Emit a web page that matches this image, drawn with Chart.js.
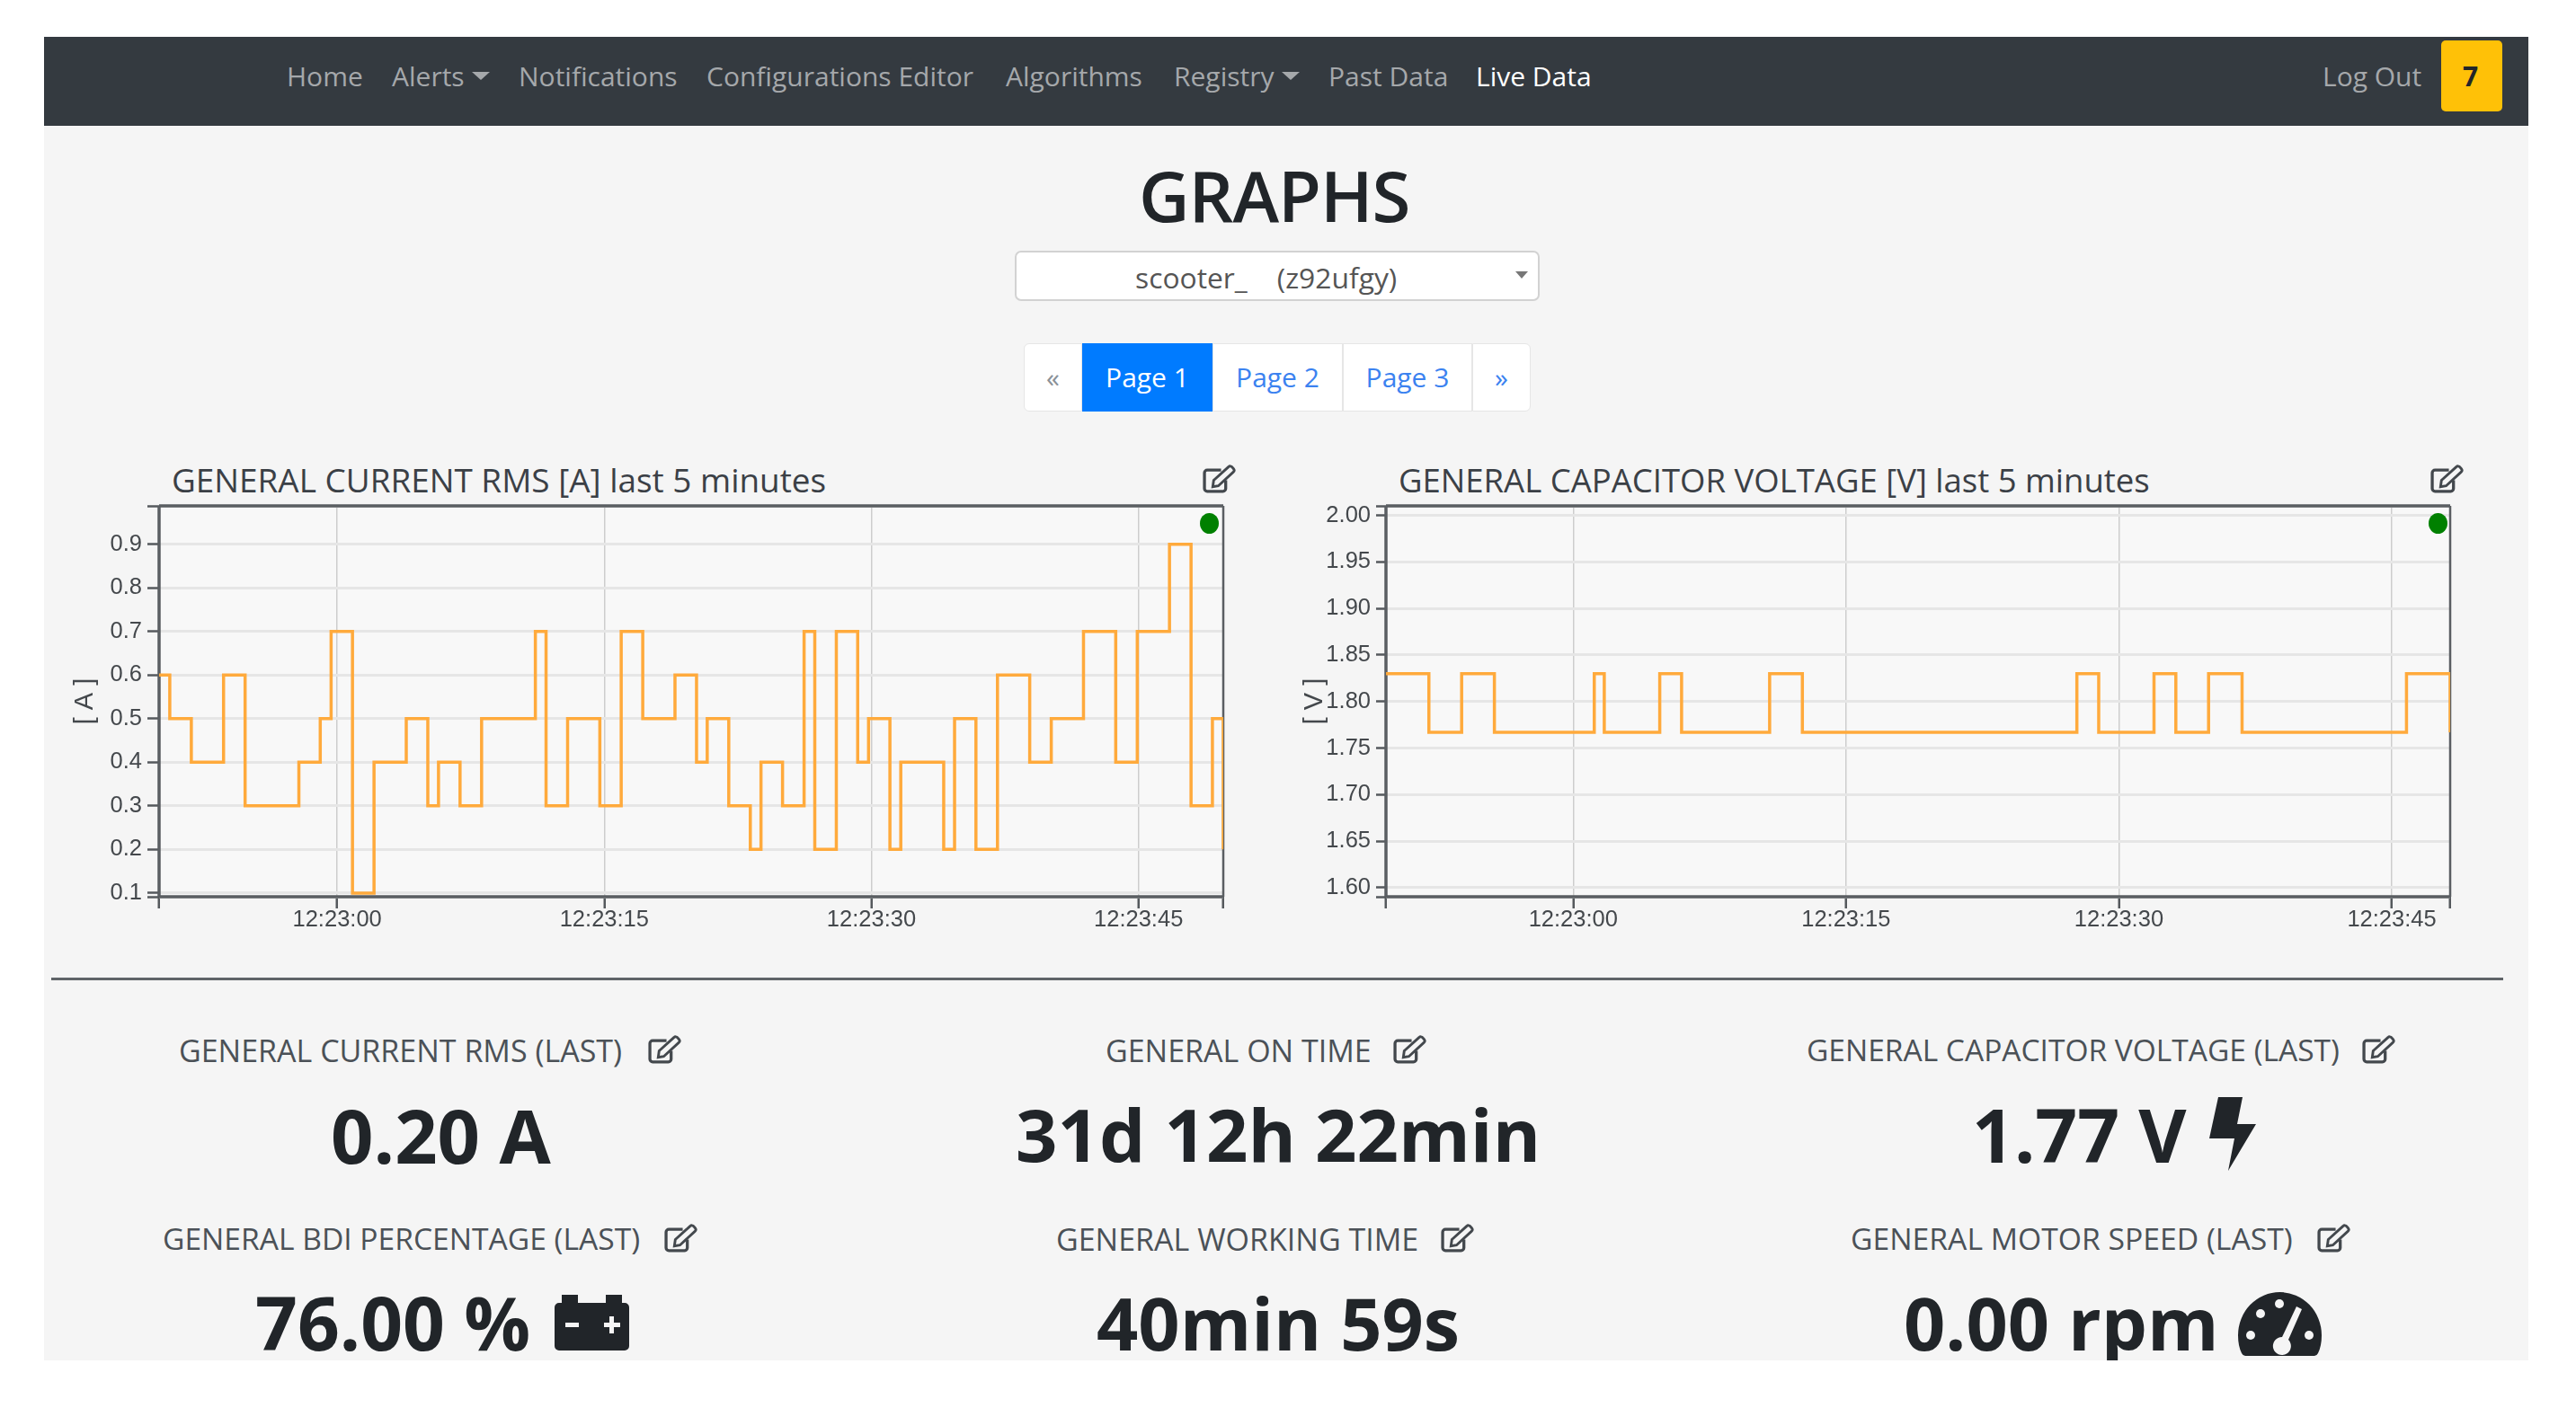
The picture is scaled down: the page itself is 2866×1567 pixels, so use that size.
<!DOCTYPE html>
<html>
<head>
<meta charset="utf-8">
<title>Graphs</title>
<script src="https://cdn.jsdelivr.net/npm/chart.js@4"></script>
<style>
  html, body { margin: 0; padding: 0; background: #fff; width: 2866px; height: 1567px; overflow: hidden; }
  #panel { position: absolute; left: 49px; top: 41px; width: 2764px; height: 1473px; background: #f5f5f5; overflow: hidden; }
  #page { position: absolute; left: -49px; top: -41px; width: 2866px; height: 1567px; font-family: "Open Sans", sans-serif; color: #212529; }
  #nav { position: absolute; left: 49px; top: 41px; width: 2764px; height: 99px; background: #343a40; }
  .t { position: absolute; white-space: nowrap; transform: translateY(-50%); line-height: 1; }
  .n { font-size: 30px; color: #a5a8ab; top: 85px; }
  .kl { font-size: 34px; color: #4b5157; }
  .kv { font-size: 82px; font-weight: 700; color: #212529; }
  .ct { font-size: 36.6px; color: #3b4046; top: 534px; }
  .caret { position: absolute; width: 0; height: 0; border-left: 10px solid transparent; border-right: 10px solid transparent; border-top: 9px solid #a5a8ab; }
  .pg { position: absolute; top: 382px; height: 76px; background: #fff; box-sizing: border-box; border: 1px solid #e6e6e6; font-size: 30px; line-height: 74px; text-align: center; color: #3b82f0; }
  canvas { position: absolute; }
  .dot { position: absolute; width: 21px; height: 23px; border-radius: 50%; background: #008000; }
  svg { position: absolute; }
</style>
</head>
<body>
<svg width="0" height="0" style="position:absolute">
  <symbol id="edit" viewBox="0 0 36 32">
    <path d="M25 17v9a3 3 0 0 1-3 3H5a3 3 0 0 1-3-3V9a3 3 0 0 1 3-3h15" fill="none" stroke="#43484d" stroke-width="3.2"/>
    <path d="M12 17 28 2.5a2.6 2.6 0 0 1 4 .3l1.5 1.7a2.6 2.6 0 0 1-.3 3.6L17 23l-6 1z" fill="none" stroke="#43484d" stroke-width="2.8"/>
  </symbol>
</svg>
<div id="panel"><div id="page">
  <div id="nav"></div>
  <span class="t n" style="left:319px">Home</span>
  <span class="t n" style="left:436px">Alerts</span><i class="caret" style="left:525px;top:80px"></i>
  <span class="t n" style="left:577px">Notifications</span>
  <span class="t n" style="left:786px">Configurations Editor</span>
  <span class="t n" style="left:1119px">Algorithms</span>
  <span class="t n" style="left:1306px">Registry</span><i class="caret" style="left:1426px;top:80px"></i>
  <span class="t n" style="left:1478px">Past Data</span>
  <span class="t n" style="left:1642px;color:#fff">Live Data</span>
  <span class="t n" style="left:2584px">Log Out</span>
  <div style="position:absolute;left:2716px;top:45px;width:68px;height:79px;background:#ffc107;border-radius:5px"></div>
  <span class="t" style="left:2740px;top:85px;font-size:30px;font-weight:700">7</span>

  <span class="t" style="left:1267px;top:217px;font-size:78px;font-weight:600;letter-spacing:-1px;color:#212529">GRAPHS</span>

  <div style="position:absolute;left:1129px;top:279px;width:584px;height:56px;background:#fff;border:2px solid #d2d2d2;border-radius:7px;box-sizing:border-box"></div>
  <span class="t" style="left:1263px;top:309px;font-size:31.8px;color:#555;white-space:pre">scooter_    (z92ufgy)</span>
  <i class="caret" style="left:1686px;top:302px;border-left-width:7px;border-right-width:7px;border-top:8px solid #777"></i>

  <div class="pg" style="left:1139px;width:65px;color:#8a9197;border-radius:6px 0 0 6px">«</div>
  <div class="pg" style="left:1204px;width:145px;background:#007bff;border-color:#007bff;color:#fff">Page 1</div>
  <div class="pg" style="left:1349px;width:145px">Page 2</div>
  <div class="pg" style="left:1494px;width:144px">Page 3</div>
  <div class="pg" style="left:1638px;width:65px;border-radius:0 6px 6px 0">»</div>

  <span class="t ct" style="left:191px;font-size:36.9px">GENERAL CURRENT RMS [A] last 5 minutes</span>
  <svg style="left:1338px;top:517px" width="37" height="33"><use href="#edit"/></svg>
  <span class="t ct" style="left:1556px;font-size:36.5px">GENERAL CAPACITOR VOLTAGE [V] last 5 minutes</span>
  <svg style="left:2704px;top:517px" width="37" height="33"><use href="#edit"/></svg>

  <canvas id="currentChart" width="1310" height="510" style="left:70px;top:540px"></canvas>
  <canvas id="voltageChart" width="1310" height="510" style="left:1440px;top:540px"></canvas>
  <div class="dot" style="left:1335px;top:571px"></div>
  <div class="dot" style="left:2702px;top:571px"></div>

  <div style="position:absolute;left:57px;top:1088px;width:2728px;height:3px;background:#5f6468"></div>

  <span class="t kl" style="left:199px;top:1169px">GENERAL CURRENT RMS (LAST)</span>
  <svg style="left:721px;top:1152px" width="37" height="33"><use href="#edit"/></svg>
  <span class="t kl" style="left:1230px;top:1169px">GENERAL ON TIME</span>
  <svg style="left:1550px;top:1152px" width="37" height="33"><use href="#edit"/></svg>
  <span class="t kl" style="left:2010px;top:1169px;font-size:33.5px">GENERAL CAPACITOR VOLTAGE (LAST)</span>
  <svg style="left:2628px;top:1152px" width="37" height="33"><use href="#edit"/></svg>

  <span class="t kv" style="left:368px;top:1262px;font-size:83px">0.20 A</span>
  <span class="t kv" style="left:1130px;top:1262px;font-size:81.3px">31d 12h 22min</span>
  <span class="t kv" style="left:2194px;top:1262px">1.77 V</span>
  <svg style="left:2458px;top:1221px" width="52" height="82" viewBox="0 0 52 82"><path d="M10 0H37L31 30H52L21 82 28 46H0Z" fill="#212529"/></svg>

  <span class="t kl" style="left:181px;top:1379px;font-size:33.6px">GENERAL BDI PERCENTAGE (LAST)</span>
  <svg style="left:739px;top:1362px" width="37" height="33"><use href="#edit"/></svg>
  <span class="t kl" style="left:1175px;top:1379px">GENERAL WORKING TIME</span>
  <svg style="left:1603px;top:1362px" width="37" height="33"><use href="#edit"/></svg>
  <span class="t kl" style="left:2059px;top:1379px;font-size:33.7px">GENERAL MOTOR SPEED (LAST)</span>
  <svg style="left:2578px;top:1362px" width="37" height="33"><use href="#edit"/></svg>

  <span class="t kv" style="left:284px;top:1471px">76.00 %</span>
  <svg style="left:617px;top:1441px" width="83" height="62" viewBox="0 0 83 62">
    <path d="M8 0H26V9H57V0H75V9H78a5 5 0 0 1 5 5V57a5 5 0 0 1-5 5H5a5 5 0 0 1-5-5V14a5 5 0 0 1 5-5H8Z" fill="#212529"/>
    <path d="M12 31H27V36H12ZM55 31H61V24H66V31H73V36H66V43H61V36H55Z" fill="#f5f5f5"/>
  </svg>
  <span class="t kv" style="left:1220px;top:1471px;font-size:81px">40min 59s</span>
  <span class="t kv" style="left:2118px;top:1471px;font-size:81px">0.00 rpm</span>
  <svg style="left:2490px;top:1436px" width="93" height="73" viewBox="0 0 93 73">
    <path d="M0 50a46.5 48 0 1 1 93 0q0 12-4 20a5 5 0 0 1-4 3H8a5 5 0 0 1-4-3q-4-8-4-20Z" fill="#212529"/>
    <g fill="#f5f5f5">
      <circle cx="14" cy="50" r="5"/><circle cx="25" cy="26" r="5"/><circle cx="46" cy="15" r="5"/><circle cx="79" cy="50" r="5"/>
      <path d="M65 18l6 3-15 34a10 10 0 1 1-7-3z"/>
    </g>
  </svg>
</div></div>

<script>
// chart values (x = seconds after 12:23:00)
const currentTimes = [-10, -9.4, -8.19, -6.38, -5.17, -2.15, -0.95, -0.34, 0.86, 2.07, 3.88, 5.09, 5.69, 6.9, 8.11, 11.13, 11.73, 12.94, 14.75, 15.95, 17.16, 18.97, 20.18, 20.78, 21.99, 23.2, 23.8, 25.01, 26.22, 26.82, 28.03, 29.23, 29.84, 31.04, 31.65, 34.06, 34.67, 35.87, 37.08, 38.89, 40.1, 41.91, 43.72, 44.93, 46.74, 47.95, 49.15, 49.76];
const currentValues = [0.6, 0.5, 0.4, 0.6, 0.3, 0.4, 0.5, 0.7, 0.1, 0.4, 0.5, 0.3, 0.4, 0.3, 0.5, 0.7, 0.3, 0.5, 0.3, 0.7, 0.5, 0.6, 0.4, 0.5, 0.3, 0.2, 0.4, 0.3, 0.7, 0.2, 0.7, 0.4, 0.5, 0.2, 0.4, 0.2, 0.5, 0.2, 0.6, 0.4, 0.5, 0.7, 0.4, 0.7, 0.9, 0.3, 0.5, 0.2];
const voltageTimes = [-10.29, -7.93, -6.13, -4.33, 1.16, 1.71, 4.76, 5.96, 10.8, 12.6, 27.69, 28.89, 31.93, 33.13, 34.93, 36.77, 45.81, 48.21];
const voltageValues = [1.83, 1.767, 1.83, 1.767, 1.83, 1.767, 1.83, 1.767, 1.83, 1.767, 1.83, 1.767, 1.83, 1.767, 1.83, 1.767, 1.83, 1.767];

const currentYTicks = [0.0915, 0.1, 0.2, 0.3, 0.4, 0.5, 0.6, 0.7, 0.8, 0.9, 0.988];
const currentXTicks = [-10, 0, 15, 30, 45, 49.76];
const voltageYTicks = [1.5902, 1.6, 1.65, 1.7, 1.75, 1.8, 1.85, 1.9, 1.95, 2, 2.0103];
const voltageXTicks = [-10.29, 0, 15, 30, 45, 48.21];

const lineColor = '#ffaa3c';
const tickFont = { family: 'Liberation Sans', size: 25.5 };

// plot background and the dark frame around it, line goes on top of the frame
const framePlugin = {
  id: 'frame',
  beforeDraw(chart) {
    const a = chart.chartArea;
    chart.ctx.fillStyle = '#f8f8f8';
    chart.ctx.fillRect(a.left, a.top, a.right - a.left, a.bottom - a.top);
  },
  beforeDatasetsDraw(chart) {
    const a = chart.chartArea, c = chart.ctx;
    c.save();
    c.strokeStyle = '#5a5e62';
    c.lineWidth = 3.5;
    c.beginPath();
    c.moveTo(a.left, a.top); c.lineTo(a.right, a.top);
    c.moveTo(a.left, a.top); c.lineTo(a.left, a.bottom);
    c.moveTo(a.left, a.bottom); c.lineTo(a.right, a.bottom);
    c.stroke();
    c.lineWidth = 2.5;
    c.beginPath();
    c.moveTo(a.right, a.top); c.lineTo(a.right, a.bottom);
    c.stroke();
    c.restore();
  }
};

function clock(v) {
  return '12:23:' + String(v).padStart(2, '0');
}

function makeChart(id, times, values, xTicks, yTicks, decimals, unit, opts) {
  new Chart(document.getElementById(id), {
    type: 'line',
    data: {
      datasets: [{
        data: times.map((t, i) => ({ x: t, y: values[i] })),
        borderColor: lineColor,
        borderWidth: 3.5,
        stepped: true,
        pointRadius: 0,
        fill: false
      }]
    },
    options: {
      responsive: false,
      animation: false,
      devicePixelRatio: 1,
      layout: { autoPadding: false, padding: { top: opts.top, right: opts.right } },
      plugins: { legend: { display: false }, tooltip: { enabled: false } },
      scales: {
        x: {
          type: 'linear',
          min: xTicks[0],
          max: xTicks[xTicks.length - 1],
          afterBuildTicks: s => { s.ticks = xTicks.map(v => ({ value: v })); },
          afterFit: s => { s.height = 52; },
          border: { display: false },
          grid: { color: '#cdcdcd', lineWidth: 1.5, tickColor: '#55595d', tickLength: 13, tickWidth: 2.5 },
          ticks: {
            autoSkip: false, maxRotation: 0, color: '#44484c', font: tickFont, padding: -2,
            callback: v => (v === xTicks[0] || v === xTicks[xTicks.length - 1]) ? '' : clock(v)
          }
        },
        y: {
          min: yTicks[0],
          max: yTicks[yTicks.length - 1],
          afterBuildTicks: s => { s.ticks = yTicks.map(v => ({ value: v })); },
          afterFit: s => { s.width = opts.left; },
          border: { display: false },
          grid: { color: '#e6e6e6', lineWidth: 3, tickColor: '#55595d', tickLength: opts.tick, tickWidth: 2.5 },
          title: { display: true, text: unit, color: '#44484c', font: { family: 'Liberation Sans', size: 29 }, padding: { top: opts.titlePad, bottom: 0 } },
          ticks: {
            autoSkip: false, color: '#44484c', font: tickFont, padding: 6,
            callback: v => (v === yTicks[0] || v === yTicks[yTicks.length - 1]) ? '' : v.toFixed(decimals)
          }
        }
      }
    },
    plugins: [framePlugin]
  });
}

makeChart('currentChart', currentTimes, currentValues, currentXTicks, currentYTicks, 1, '[ A ]',
  { left: 107, top: 23, right: 19, tick: 13, titlePad: 8 });
makeChart('voltageChart', voltageTimes, voltageValues, voltageXTicks, voltageYTicks, 2, '[ V ]',
  { left: 102, top: 23, right: 24, tick: 11, titlePad: 6 });
</script>
</body>
</html>
